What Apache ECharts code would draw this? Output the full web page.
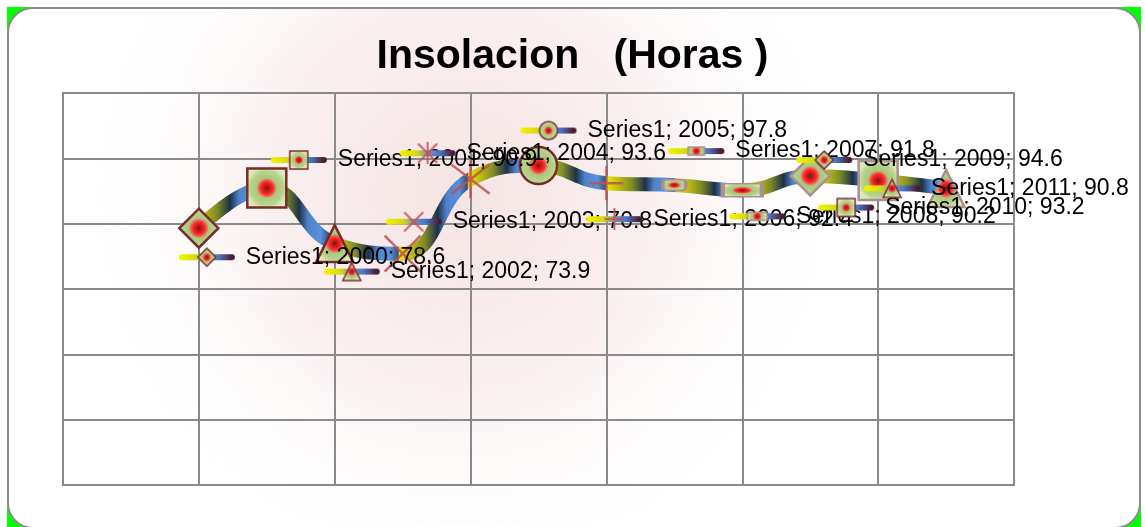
<!DOCTYPE html>
<html>
<head>
<meta charset="utf-8">
<script src="https://cdn.jsdelivr.net/npm/echarts@6/dist/echarts.min.js"></script>
<style>
html, body { margin: 0; padding: 0; background: #fff; overflow: hidden; }
.corner { position: absolute; left: 7px; top: 7px; width: 1134px; height: 540px; background: #00ff00; }
.card {
  position: absolute; left: 7px; top: 7px; width: 1130px; height: 518px;
  border: 2px solid #8c8c8c; border-radius: 26px; background: #fff;
}
#chart { position: absolute; left: 0; top: 0; width: 1145px; height: 527px; }
</style>
</head>
<body>
<div class="corner"></div>
<div class="card"></div>
<div id="chart"></div>
<script>
// data
const years = [2000, 2001, 2002, 2003, 2004, 2005, 2006, 2007, 2008, 2009, 2010, 2011]
const hours = [78.6, 90.9, 73.9, 70.8, 93.6, 97.8, 92.4, 91.8, 90.2, 94.6, 93.2, 90.8]
const seriesName = 'Series1'
const xTicks = [1998, 2012, 2]   // min, max, interval (no labels shown)
const yTicks = [0, 120, 20]

// style: marker type for each point and where its label sits
const markerOrder = ['diamond', 'square', 'triangle', 'x', 'star', 'circle', 'plus', 'dash', 'longdash', 'diamond', 'square', 'triangle']
const labelOffsets = [[-21, 29], [3, -28], [-12, 28], [-18, -32], [-72, -26], [-19, -35],
  [-21, 36], [-7, -34], [-14, 26], [-15, -16], [-61, 27], [-83, 0]]

const markerStops = [
  [0, '#6a1a1a'], [0.14, '#c81818'], [0.3, '#ff2a2a'], [0.4, '#f06a5a'],
  [0.48, '#a9c77d'], [0.8, '#b8d48c'], [1, '#dce9bb']
]
const crossColor = 'rgba(192,80,77,0.85)'

const symbolDefs = {
  diamond: { symbol: 'diamond', size: 39 },
  square: { symbol: 'rect', size: 39 },
  triangle: { symbol: 'triangle', size: 37 },
  x: { symbol: 'path://M0,0L20,20M20,0L0,20', size: 36, lines: true },
  star: { symbol: 'path://M0,0L20,20M20,0L0,20M10,-3L10,23', size: 38, lines: true },
  circle: { symbol: 'circle', size: 37 },
  plus: { symbol: 'path://M10,0L10,20M0,10L20,10', size: 34, lines: true },
  dash: { symbol: 'roundRect', size: [23, 11] },
  longdash: { symbol: 'rect', size: [39, 13] }
}

function markerFill() {
  return new echarts.graphic.RadialGradient(0.5, 0.5, 0.5,
    markerStops.map(s => ({ offset: s[0], color: s[1] })))
}

// small legend-like glyph shown in front of every label
function drawMarker(ctx, type, cx, cy, s) {
  const h = s / 2
  const g = ctx.createRadialGradient(cx, cy, 0, cx, cy, h)
  markerStops.forEach(st => g.addColorStop(st[0], st[1]))
  ctx.fillStyle = g
  ctx.strokeStyle = '#7a2e2c'
  ctx.lineWidth = 1.5
  ctx.beginPath()
  if (type === 'diamond') {
    ctx.moveTo(cx, cy - h); ctx.lineTo(cx + h, cy); ctx.lineTo(cx, cy + h); ctx.lineTo(cx - h, cy); ctx.closePath()
  } else if (type === 'square') {
    ctx.rect(cx - h, cy - h, s, s)
  } else if (type === 'triangle') {
    ctx.moveTo(cx, cy - h); ctx.lineTo(cx + h, cy + h); ctx.lineTo(cx - h, cy + h); ctx.closePath()
  } else if (type === 'circle') {
    ctx.arc(cx, cy, h, 0, Math.PI * 2)
  } else if (type === 'dash' || type === 'longdash') {
    const w = type === 'dash' ? s * 0.9 : s * 1.1
    ctx.rect(cx - w / 2, cy - 4, w, 8)
    ctx.strokeStyle = '#a88'
  } else {
    ctx.strokeStyle = crossColor
    ctx.lineWidth = 2
    if (type === 'x' || type === 'star') {
      ctx.moveTo(cx - h, cy - h); ctx.lineTo(cx + h, cy + h)
      ctx.moveTo(cx + h, cy - h); ctx.lineTo(cx - h, cy + h)
    }
    if (type === 'star' || type === 'plus') {
      ctx.moveTo(cx, cy - h - 2); ctx.lineTo(cx, cy + h + 2)
    }
    if (type === 'plus') {
      ctx.moveTo(cx - h, cy); ctx.lineTo(cx + h, cy)
    }
    ctx.stroke()
    return
  }
  ctx.fill()
  ctx.stroke()
}

function makeGlyph(type) {
  const c = document.createElement('canvas')
  c.width = 58
  c.height = 22
  const ctx = c.getContext('2d')
  const g = ctx.createLinearGradient(3, 0, 55, 0)
  g.addColorStop(0, '#f2f200')
  g.addColorStop(0.3, '#d6d618')
  g.addColorStop(0.5, '#7894b4')
  g.addColorStop(0.72, '#4a78c8')
  g.addColorStop(1, '#4a1626')
  ctx.strokeStyle = g
  ctx.lineWidth = 6
  ctx.lineCap = 'round'
  ctx.beginPath()
  ctx.moveTo(4, 11)
  ctx.lineTo(54, 11)
  ctx.stroke()
  drawMarker(ctx, type, 29, 11, 18)
  return c
}

// line colour: same yellow-olive-dark-blue band repeated on every segment
function lineGradient() {
  const seg = [[0, '#e8e600'], [0.16, '#c0be10'], [0.36, '#7e8c28'], [0.55, '#1e3048'],
    [0.68, '#4f82c8'], [0.86, '#5a90dc'], [0.98, '#34507e']]
  const n = years.length - 1
  const stops = []
  for (let i = 0; i < n; i++) {
    seg.forEach(s => stops.push({ offset: (i + s[0]) / n, color: s[1] }))
  }
  return new echarts.graphic.LinearGradient(0, 0, 1, 0, stops)
}

const rich = {
  t: { fontFamily: 'Liberation Sans', fontSize: 23, color: '#000', padding: [0, 0, 0, 10] }
}
const points = years.map((y, i) => {
  const type = markerOrder[i]
  const def = symbolDefs[type]
  rich['g' + i] = { width: 58, height: 22, backgroundColor: { image: makeGlyph(type) } }
  const lateBorder = i >= 7
  return {
    value: [y, hours[i]],
    symbol: def.symbol,
    symbolSize: def.size,
    itemStyle: def.lines
      ? { color: 'rgba(0,0,0,0)', borderColor: crossColor, borderWidth: 2.5 }
      : { color: markerFill(), borderColor: lateBorder ? '#ab9090' : '#772c2a', borderWidth: 2.5 },
    label: { offset: labelOffsets[i] }
  }
})

const chart = echarts.init(document.getElementById('chart'))
const gridColor = '#8a8a8a'
chart.setOption({
  animation: false,
  title: {
    text: 'Insolacion   (Horas )',
    left: 'center',
    top: 31,
    textStyle: { fontFamily: 'Liberation Sans', fontSize: 41, fontWeight: 'bold', color: '#000' }
  },
  graphic: [{
    type: 'rect',
    z: -10,
    silent: true,
    shape: { x: 9, y: 9, width: 1128, height: 516 },
    style: {
      fill: new echarts.graphic.RadialGradient(0.4, 0.36, 0.75, [
        { offset: 0, color: 'rgba(236,200,200,0.5)' },
        { offset: 0.5, color: 'rgba(240,210,210,0.35)' },
        { offset: 1, color: 'rgba(255,255,255,0)' }
      ])
    }
  }],
  grid: {
    left: 63, right: 131, top: 93, bottom: 42,
    show: true, borderColor: gridColor, borderWidth: 2, backgroundColor: 'transparent'
  },
  xAxis: {
    type: 'value', min: xTicks[0], max: xTicks[1], interval: xTicks[2],
    axisLabel: { show: false }, axisTick: { show: false },
    axisLine: { lineStyle: { color: gridColor, width: 2 } },
    splitLine: { show: true, lineStyle: { color: gridColor, width: 2 } }
  },
  yAxis: {
    type: 'value', min: yTicks[0], max: yTicks[1], interval: yTicks[2],
    axisLabel: { show: false }, axisTick: { show: false },
    axisLine: { show: true, lineStyle: { color: gridColor, width: 2 } },
    splitLine: { show: true, lineStyle: { color: gridColor, width: 2 } }
  },
  series: [{
    name: seriesName,
    type: 'line',
    smooth: 0.45,
    data: points,
    lineStyle: { width: 14, color: lineGradient(), cap: 'round' },
    emphasis: { disabled: true },
    label: {
      show: true,
      position: 'inside',
      align: 'left',
      verticalAlign: 'middle',
      formatter: p => '{g' + p.dataIndex + '|}{t|' + seriesName + '; ' + p.value[0] + '; ' + p.value[1] + '}',
      rich: rich
    }
  }]
})
</script>
</body>
</html>
